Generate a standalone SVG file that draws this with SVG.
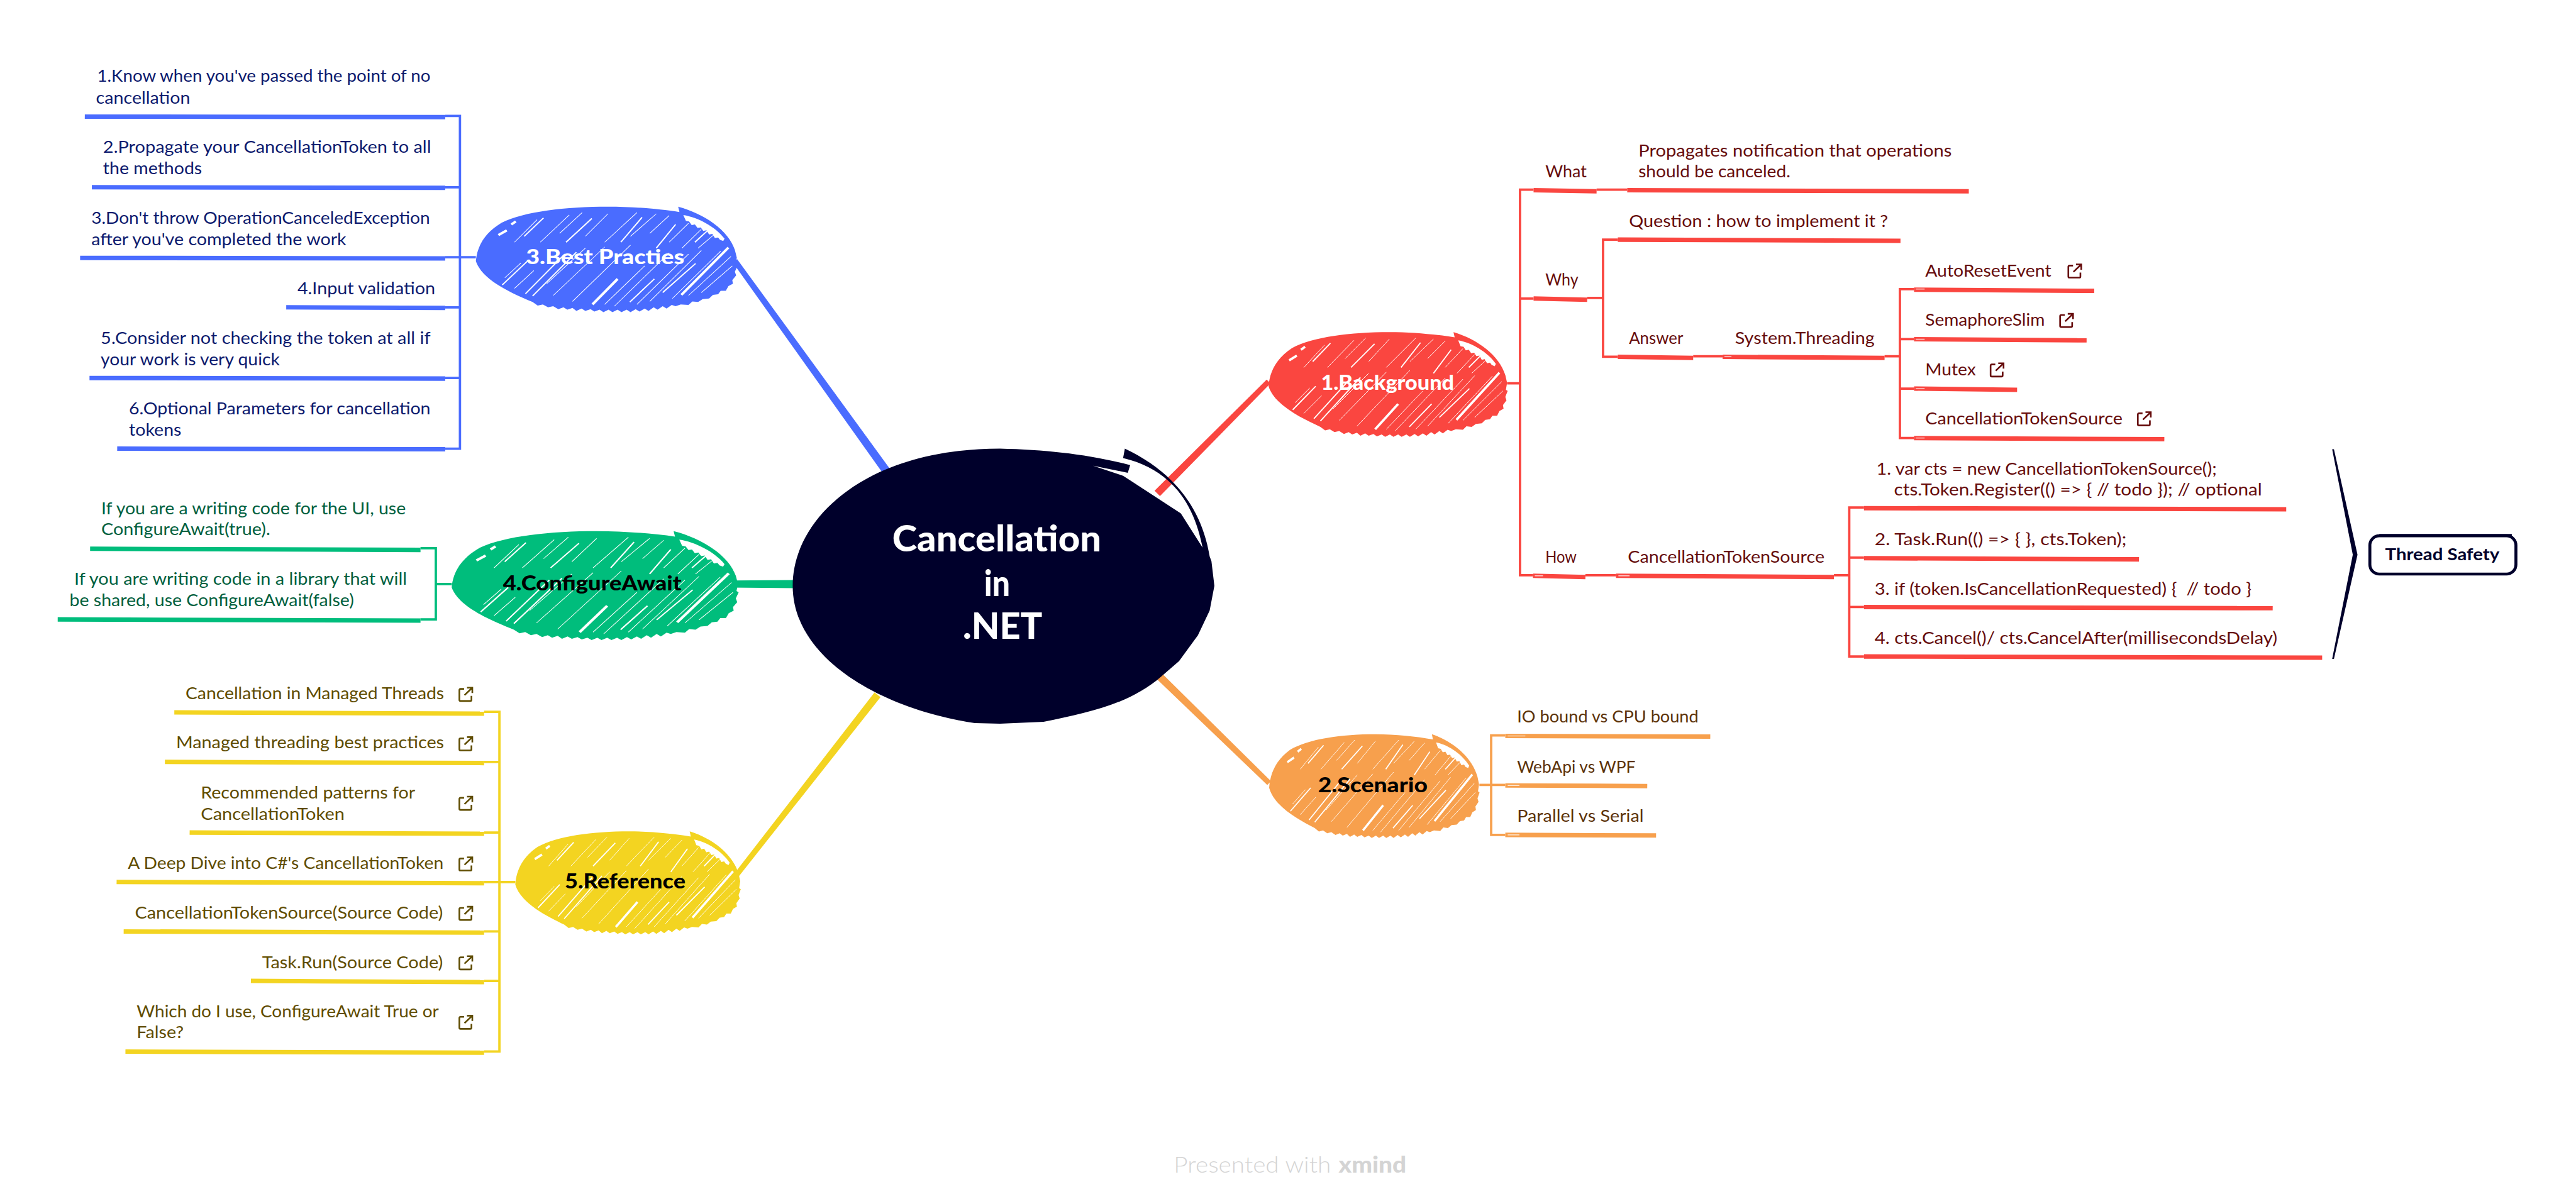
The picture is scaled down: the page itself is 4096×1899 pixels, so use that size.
<svg xmlns="http://www.w3.org/2000/svg" width="4096" height="1899" viewBox="0 0 4096 1899">
<style>
text{font-family:Lato,"Open Sans","Liberation Sans",sans-serif;font-size:29px;white-space:pre}
.t{font-weight:900;font-size:35px}
.c{font-weight:900;font-size:60px;fill:#fff}
.b{fill:#000}.w{fill:#fff}
.u,.l{fill:none;stroke-linecap:butt}
.u{stroke-width:7.5}.l{stroke-width:4}
.red{stroke:#fa4640}.org{stroke:#f7a04d}.blu{stroke:#4a6cff}.grn{stroke:#00bd7c}.yel{stroke:#f3d421}
.tr{fill:#660c0c}.to{fill:#5c3208}.tb{fill:#0c1a6e}.tg{fill:#00603e}.ty{fill:#5f4c00}
.hl{stroke:#fff;stroke-width:1.2;fill:none}
.h1{stroke:#fff;stroke-width:1;fill:none}.h2{stroke:#fff;stroke-width:2;fill:none}.h3{stroke:#fff;stroke-width:4;fill:none}
.ext{fill:none;stroke:currentColor;stroke-width:2.8}
</style>
<defs>
<g id="blob">
<path fill="currentColor" d="M0,92C2,66 14,44 40,27C75,8 140,0 205,0C245,0 285,4 316,9L314,0C355,12 392,40 402,73L405,86L403,98L406,100L402,110L404,116L398,124L399,130L392,134L388,142L380,142L376,148L368,149L362,155L352,156L345,161L336,160L330,166L318,165L310,168L304,166L296,172L290,168L282,174L276,170L268,176L262,172L254,177L248,173L240,178L234,174L226,178L220,174L212,178L206,174L198,178L192,174L184,177L178,173L170,176L164,172L156,176L150,171L142,174L136,170L128,173L120,168L112,170L104,165L96,167L88,161C60,148 10,125 0,92Z"/>
<path fill="#fff" d="M322,14C345,18 372,34 386,54L384,58L379,56L376,52L371,53L367,46L362,47L358,40L353,41L349,35L344,36L340,30L335,31L331,25L326,24Z"/>
<path class="h1" d="M60,60L95,22M110,130L170,70M120,150L200,68M150,160L240,65M200,165L262,100M215,168L300,78M250,165L330,80M270,160L350,74M305,155L380,75M330,150L396,84M350,145L398,100M45,120L70,95M60,138L90,108M100,60L145,14M130,45L165,10M170,50L205,12M200,60L250,10M240,50L280,12M270,45L300,15M300,60L330,28M320,70L350,38M345,70L372,45"/>
<path class="h2" d="M41,132L80,92M77,147L138,80M88,151L156,77M239,161L277,122M290,145L341,96M75,50L105,19M140,60L180,20M225,60L258,18M280,70L310,30M340,60L360,40"/>
<path class="h3" d="M181,165L220,122M319,149L392,69M35,48L48,40M55,30L62,25"/>
</g>
<g id="ext" class="ext"><path d="M9,2H3Q1,2 1,4V20.5Q1,22.5 3,22.5H19.5Q21.5,22.5 21.5,20.5V14M9.7,12.7L23,0M14,0H23V9"/></g>
</defs>
<rect width="4096" height="1899" fill="#fff"/>
<g transform="scale(0.93644)">
<g id="connectors">
<path fill="#4a6cff" d="M1510.7,795.9L1499.3,804.1L1244.3,445.9L1251.7,440.1Z"/>
<path fill="#fa4640" d="M1960.4,833.4L1969.6,842.6L2157.2,651.2L2150.8,644.8Z"/>
<path fill="#f7a04d" d="M1969.7,1140.5L1960.3,1149.5L2151.8,1333.2L2158.2,1326.8Z"/>
<path fill="#f3d421" d="M1495.1,1184L1484.9,1176L1246.5,1484.2L1253.5,1489.8Z"/>
<path fill="#00bd7c" d="M1240,986L1352,985L1352,999L1240,998Z"/>
<path class="l red" d="M2559,651H2581M2604,322H2581V977H2603M2581,507H2604M2695,506H2722M2747,407H2722V606H2747M2711,322H2763M2875,605H2925M3200,605H3226M3250,491H3226V744H3250M3226,576H3250M3226,660H3250M2692,977H2744M3114,977H3140M3165,862H3140V1115H3165M3140,947H3165M3140,1031H3165"/>
<path class="l org" d="M2512,1333H2556M2556,1249H2532V1418H2556"/>
<path class="l blu" d="M808,437H756M756,197H781V762H756M756,318H781M756,522H781M756,642H781"/>
<path class="l grn" d="M767,992H740M714,931H740V1052H714"/>
<path class="l yel" d="M875,1498H822M822,1209H848V1786H822M822,1294H848M822,1414H848M822,1582H848M822,1666H848"/>
</g>
<g id="center">
<path fill="#00002b" d="M1346,995C1346,880 1470,762 1698,762C1780,764 1850,772 1919,790L1915,803L1856,791L1907,808L2005,872L2042,930C2030,870 2000,800 1907,778L1910,762C1990,800 2040,860 2054,945L2057,953L2062,995L2054,1037L2034,1079L2002,1123L1973,1148C1920,1195 1850,1210 1772,1226L1698,1229L1655,1228C1500,1205 1346,1120 1346,995Z"/>
<text class="c" x="1515" y="937" textLength="355" lengthAdjust="spacingAndGlyphs">Cancellation</text>
<text class="c" x="1671" y="1012" textLength="44" lengthAdjust="spacingAndGlyphs">in</text>
<text class="c" x="1635" y="1085" textLength="135" lengthAdjust="spacingAndGlyphs">.NET</text>
</g>
<g id="n1-background" color="#fa4640"><use href="#blob" transform="translate(2154,564)"/><text class="t w" x="2243" y="662" textLength="226" lengthAdjust="spacingAndGlyphs">1.Background</text></g>
<g id="n2-scenario" color="#f7a04d"><use href="#blob" transform="translate(2155,1247) scale(.88,.99)"/><text class="t b" x="2238" y="1345" textLength="186" lengthAdjust="spacingAndGlyphs">2.Scenario</text></g>
<g id="n3-practices" color="#4a6cff"><use href="#blob" transform="translate(808,351) scale(1.094,1.006)"/><text class="t w" x="893" y="449" textLength="269" lengthAdjust="spacingAndGlyphs">3.Best Practies</text></g>
<g id="n4-configure" color="#00bd7c"><use href="#blob" transform="translate(767,902) scale(1.2,1.04)"/><text class="t b" x="854" y="1003" textLength="303" lengthAdjust="spacingAndGlyphs">4.ConfigureAwait</text></g>
<g id="n5-reference" color="#f3d421"><use href="#blob" transform="translate(875,1412) scale(.943,.983)"/><text class="t b" x="959" y="1509" textLength="205" lengthAdjust="spacingAndGlyphs">5.Reference</text></g>

<g id="r-what"><text class="tr" x="2624" y="301" textLength="70" lengthAdjust="spacingAndGlyphs">What</text><path class="u red" d="M2604,323L2711,325"/></g>
<g id="r-what-desc"><text class="tr" x="2782" y="266" textLength="532" lengthAdjust="spacingAndGlyphs">Propagates notification that operations</text><text class="tr" x="2782" y="301" textLength="258" lengthAdjust="spacingAndGlyphs">should be canceled.</text><path class="u red" d="M2763,323L3343,325"/></g>
<g id="r-why"><text class="tr" x="2624" y="485" textLength="56" lengthAdjust="spacingAndGlyphs">Why</text><path class="u red" d="M2604,507L2695,509"/></g>
<g id="r-question"><text class="tr" x="2766" y="385" textLength="440" lengthAdjust="spacingAndGlyphs">Question : how to implement it ?</text><path class="u red" d="M2747,407L3227,409"/></g>
<g id="r-answer"><text class="tr" x="2766" y="584" textLength="92" lengthAdjust="spacingAndGlyphs">Answer</text><path class="u red" d="M2747,606L2875,608"/></g>
<g id="r-threading"><text class="tr" x="2946" y="584" textLength="237" lengthAdjust="spacingAndGlyphs">System.Threading</text><path class="u red" d="M2925,606L3200,608"/><path class="hl" d="M2928,605H2940"/></g>
<g id="r-autoreset" color="#660c0c"><text class="tr" x="3269" y="470" textLength="214" lengthAdjust="spacingAndGlyphs">AutoResetEvent</text><use href="#ext" x="3511" y="449"/><path class="u red" d="M3250,492L3556,494"/><path class="hl" d="M3253,491H3268"/></g>
<g id="r-semaphore" color="#660c0c"><text class="tr" x="3269" y="553" textLength="203" lengthAdjust="spacingAndGlyphs">SemaphoreSlim</text><use href="#ext" x="3497" y="533"/><path class="u red" d="M3250,576L3543,578"/><path class="hl" d="M3253,576H3268"/></g>
<g id="r-mutex" color="#660c0c"><text class="tr" x="3269" y="637" textLength="86" lengthAdjust="spacingAndGlyphs">Mutex</text><use href="#ext" x="3379" y="617"/><path class="u red" d="M3250,660L3425,662"/><path class="hl" d="M3253,660H3268"/></g>
<g id="r-ctsource" color="#660c0c"><text class="tr" x="3269" y="721" textLength="335" lengthAdjust="spacingAndGlyphs">CancellationTokenSource</text><use href="#ext" x="3629" y="700"/><path class="u red" d="M3250,744L3675,746"/><path class="hl" d="M3253,744H3268"/></g>
<g id="r-how"><text class="tr" x="2624" y="956" textLength="53" lengthAdjust="spacingAndGlyphs">How</text><path class="u red" d="M2603,978L2692,980"/><path class="hl" d="M2606,978H2620"/></g>
<g id="r-how-cts"><text class="tr" x="2764" y="956" textLength="334" lengthAdjust="spacingAndGlyphs">CancellationTokenSource</text><path class="u red" d="M2744,978L3114,980"/><path class="hl" d="M2748,978H2767"/></g>
<g id="r-step1"><text class="tr" x="3186" y="806" textLength="578" lengthAdjust="spacingAndGlyphs">1. var cts = new CancellationTokenSource();</text><text class="tr" x="3216" y="842" textLength="625" lengthAdjust="spacingAndGlyphs">cts.Token.Register(() =&gt; { // todo }); // optional</text><path class="u red" d="M3165,863L3882,865"/></g>
<g id="r-step2"><text class="tr" x="3183" y="926" textLength="428" lengthAdjust="spacingAndGlyphs">2. Task.Run(() =&gt; { }, cts.Token);</text><path class="u red" d="M3165,948L3632,950"/></g>
<g id="r-step3"><text class="tr" x="3183" y="1010" textLength="640" lengthAdjust="spacingAndGlyphs">3. if (token.IsCancellationRequested) {  // todo }</text><path class="u red" d="M3165,1031L3859,1033"/></g>
<g id="r-step4"><text class="tr" x="3183" y="1094" textLength="684" lengthAdjust="spacingAndGlyphs">4. cts.Cancel()/ cts.CancelAfter(millisecondsDelay)</text><path class="u red" d="M3165,1115L3943,1117"/></g>
<g id="r-summary"><path fill="#00002b" d="M3960,763L3963,763L4003,942L3963,1119L3960,1119L3995,942Z"/></g>
<g id="r-thread-safety"><rect x="4024" y="910" width="248" height="65" rx="16" fill="#fff" stroke="#00002b" stroke-width="5"/><path fill="none" stroke="#00002b" stroke-width="4" d="M4040,909H4265"/><text x="4050" y="952" style="font-weight:700;font-size:28px;fill:#00002b" textLength="194" lengthAdjust="spacingAndGlyphs">Thread Safety</text></g>

<g id="o-io"><text class="to" x="2576" y="1227" textLength="308" lengthAdjust="spacingAndGlyphs">IO bound vs CPU bound</text><path class="u org" d="M2556,1250L2904,1251"/><path class="hl" d="M2560,1250H2590"/></g>
<g id="o-webapi"><text class="to" x="2576" y="1312" textLength="201" lengthAdjust="spacingAndGlyphs">WebApi vs WPF</text><path class="u org" d="M2556,1334L2797,1335"/><path class="hl" d="M2560,1334H2580"/></g>
<g id="o-parallel"><text class="to" x="2576" y="1396" textLength="215" lengthAdjust="spacingAndGlyphs">Parallel vs Serial</text><path class="u org" d="M2556,1418L2812,1419"/><path class="hl" d="M2560,1418H2580"/></g>

<g id="b-1"><text class="tb" x="165" y="139" textLength="566" lengthAdjust="spacingAndGlyphs">1.Know when you've passed the point of no</text><text class="tb" x="163" y="176" textLength="160" lengthAdjust="spacingAndGlyphs">cancellation</text><path class="u blu" d="M144,198L756,199"/></g>
<g id="b-2"><text class="tb" x="175" y="260" textLength="557" lengthAdjust="spacingAndGlyphs">2.Propagate your CancellationToken to all</text><text class="tb" x="175" y="296" textLength="168" lengthAdjust="spacingAndGlyphs">the methods</text><path class="u blu" d="M156,318L756,319"/></g>
<g id="b-3"><text class="tb" x="155" y="380" textLength="575" lengthAdjust="spacingAndGlyphs">3.Don't throw OperationCanceledException</text><text class="tb" x="155" y="416" textLength="433" lengthAdjust="spacingAndGlyphs">after you've completed the work</text><path class="u blu" d="M136,438L756,439"/></g>
<g id="b-4"><text class="tb" x="505" y="500" textLength="234" lengthAdjust="spacingAndGlyphs">4.Input validation</text><path class="u blu" d="M486,522L756,523"/></g>
<g id="b-5"><text class="tb" x="171" y="584" textLength="560" lengthAdjust="spacingAndGlyphs">5.Consider not checking the token at all if</text><text class="tb" x="171" y="620" textLength="304" lengthAdjust="spacingAndGlyphs">your work is very quick</text><path class="u blu" d="M152,642L756,643"/></g>
<g id="b-6"><text class="tb" x="219" y="704" textLength="512" lengthAdjust="spacingAndGlyphs">6.Optional Parameters for cancellation</text><text class="tb" x="219" y="740" textLength="89" lengthAdjust="spacingAndGlyphs">tokens</text><path class="u blu" d="M199,762L756,763"/></g>

<g id="g-1"><text class="tg" x="172" y="873" textLength="517" lengthAdjust="spacingAndGlyphs">If you are a writing code for the UI, use</text><text class="tg" x="172" y="909" textLength="287" lengthAdjust="spacingAndGlyphs">ConfigureAwait(true).</text><path class="u grn" d="M153,932L714,934"/></g>
<g id="g-2"><text class="tg" x="126" y="993" textLength="565" lengthAdjust="spacingAndGlyphs">If you are writing code in a library that will</text><text class="tg" x="118" y="1029" textLength="483" lengthAdjust="spacingAndGlyphs">be shared, use ConfigureAwait(false)</text><path class="u grn" d="M98,1052L714,1054"/></g>

<g id="y-1" color="#5f4c00"><text class="ty" x="315" y="1188" textLength="439" lengthAdjust="spacingAndGlyphs">Cancellation in Managed Threads</text><use href="#ext" x="779" y="1168"/><path class="u yel" d="M296,1210L822,1212"/></g>
<g id="y-2" color="#5f4c00"><text class="ty" x="299" y="1271" textLength="455" lengthAdjust="spacingAndGlyphs">Managed threading best practices</text><use href="#ext" x="779" y="1252"/><path class="u yel" d="M280,1294L822,1296"/></g>
<g id="y-3" color="#5f4c00"><text class="ty" x="341" y="1356" textLength="364" lengthAdjust="spacingAndGlyphs">Recommended patterns for</text><text class="ty" x="341" y="1392" textLength="244" lengthAdjust="spacingAndGlyphs">CancellationToken</text><use href="#ext" x="779" y="1353"/><path class="u yel" d="M322,1414L822,1416"/></g>
<g id="y-4" color="#5f4c00"><text class="ty" x="217" y="1476" textLength="536" lengthAdjust="spacingAndGlyphs">A Deep Dive into C#'s CancellationToken</text><use href="#ext" x="779" y="1456"/><path class="u yel" d="M198,1498L822,1500"/></g>
<g id="y-5" color="#5f4c00"><text class="ty" x="229" y="1560" textLength="523" lengthAdjust="spacingAndGlyphs">CancellationTokenSource(Source Code)</text><use href="#ext" x="779" y="1540"/><path class="u yel" d="M210,1582L822,1584"/></g>
<g id="y-6" color="#5f4c00"><text class="ty" x="445" y="1644" textLength="307" lengthAdjust="spacingAndGlyphs">Task.Run(Source Code)</text><use href="#ext" x="779" y="1624"/><path class="u yel" d="M426,1666L822,1668"/></g>
<g id="y-7" color="#5f4c00"><text class="ty" x="232" y="1728" textLength="513" lengthAdjust="spacingAndGlyphs">Which do I use, ConfigureAwait True or</text><text class="ty" x="232" y="1763" textLength="80" lengthAdjust="spacingAndGlyphs">False?</text><use href="#ext" x="779" y="1725"/><path class="u yel" d="M213,1786L822,1788"/></g>

<g id="footer"><text x="1993" y="1992" style="font-size:38px;font-weight:300;fill:#d4d4d4" textLength="267" lengthAdjust="spacingAndGlyphs">Presented with</text><text x="2273" y="1992" style="font-size:38px;font-weight:900;fill:#d4d4d4" textLength="115" lengthAdjust="spacingAndGlyphs">xmind</text></g>
</g>
</svg>
